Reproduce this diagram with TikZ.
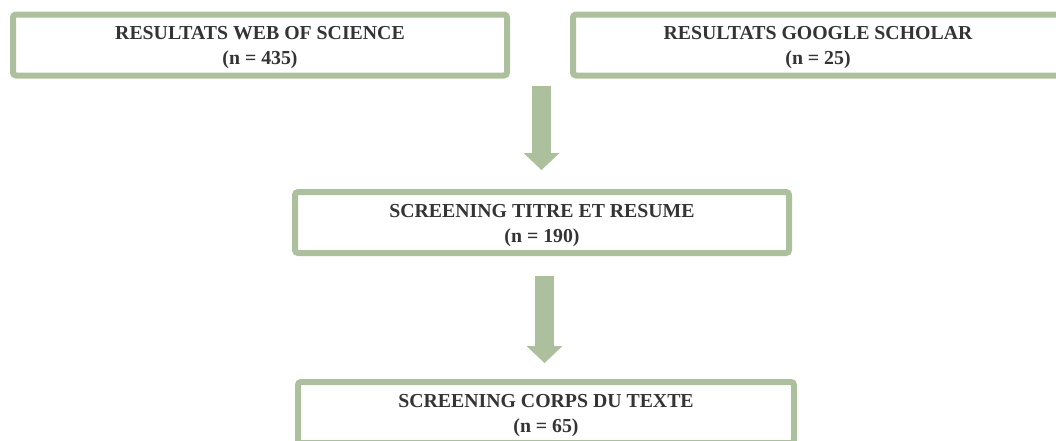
\documentclass[tikz,border=0pt]{standalone}
\usepackage{fontspec}
\setmainfont{Liberation Serif}
\usepackage{xcolor}
\usepackage{tikz}
\usetikzlibrary{positioning, arrows.meta, calc}

\definecolor{sage}{RGB}{173,192,158}
\definecolor{inkgray}{RGB}{52,52,52}
\newcommand{\capstrut}{\rule{0pt}{19pt}}

\tikzset{
  stagebox/.style={draw=sage, line width=6pt, rounded corners=3pt, fill=white,
    minimum width=494pt, minimum height=61pt, inner sep=0pt, align=center,
    text=inkgray, font=\fontsize{19.8}{25}\selectfont\bfseries},
  flowarrow/.style={draw=sage, line width=19pt,
    -{Triangle[length=17pt, width=36pt, line width=0pt, fill=sage]}}
}

\begin{document}
\begin{tikzpicture}[x=1pt,y=1pt,yscale=-1,xscale=1]
\useasboundingbox (0,0) rectangle (1056,440);

% search results
\node[stagebox] (wos) at (260,45) {\capstrut RESULTATS WEB OF SCIENCE\\(n = 435)};
\node[stagebox, minimum width=490pt] (gs) at (818,45) {\capstrut RESULTATS GOOGLE SCHOLAR\\(n = 25)};

% screening steps
\node[stagebox] (titre) at (542,222.5) {\capstrut SCREENING TITRE ET RESUME\\(n = 190)};
\node[stagebox, minimum width=496pt] (corps) at (546,412.5) {\capstrut SCREENING CORPS DU TEXTE\\(n = 65)};

% arrows
\draw[flowarrow] ($(titre.north |- wos.south)+(-0.5,7)$) -- ($(titre.north)+(-0.5,-19)$);
\draw[flowarrow] ($(corps.north |- titre.south)+(-1.5,20)$) -- ($(corps.north)+(-1.5,-16)$);

\end{tikzpicture}
\end{document}
